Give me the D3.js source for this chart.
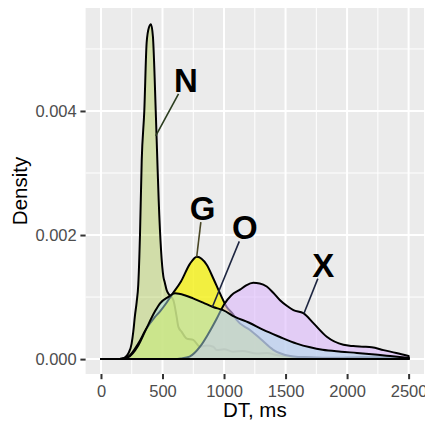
<!DOCTYPE html>
<html>
<head>
<meta charset="utf-8">
<script src="https://cdn.jsdelivr.net/npm/d3@7"></script>
<style>
  body { margin: 0; background: #fff; }
  svg { display: block; font-family: "Liberation Sans", Arial, sans-serif; }
</style>
</head>
<body>
<div id="chart"></div>
<script>
// density curves (DT in ms, density)
const dtN = [0, 150, 190, 222, 249, 263, 276, 290, 303, 317, 331, 352, 371, 390, 406, 422, 445, 458, 469, 488,
             507, 518, 534, 558, 588, 615, 629, 656, 697, 750, 805, 860, 913, 940, 1000, 1073, 1150, 1266, 1350, 1428,
             1537, 1700, 1900, 2100, 2300, 2500];
const densN = [0, 0, 0.00002, 0.00009, 0.00025, 0.00045, 0.0007, 0.00092, 0.0012, 0.002, 0.0032, 0.004, 0.0051, 0.00535, 0.0054, 0.0052, 0.004, 0.0032, 0.00256, 0.00176,
               0.00133, 0.00124, 0.00111, 0.00103, 0.00095, 0.00068, 0.00052, 0.00044, 0.00033, 0.00031, 0.0002, 0.00022, 0.0002, 0.000145, 0.00016, 0.00012, 0.00013, 0.00009, 0.0001, 0.000065,
               0.00004, 0.00003, 0.00002, 0.00003, 0.00003, 0.00002];

const dtG = [0, 150, 222, 303, 366, 439, 480, 530, 577, 650, 724, 780, 859, 913, 967, 1022, 1075, 1103, 1211, 1300,
             1400, 1537, 1700, 1900, 2100, 2300, 2500];
const densG = [0, 0, 0.00004, 0.00025, 0.00048, 0.00068, 0.00077, 0.0009, 0.00104, 0.00125, 0.00154, 0.00165, 0.00152, 0.0013, 0.00106, 0.00084, 0.00072, 0.00063, 0.00047, 0.00032,
               0.00015, 0.00005, 0.00002, 0.00001, 0.000005, 0, 0];

const dtO = [0, 150, 220, 303, 366, 439, 480, 545, 602, 680, 748, 830, 911, 992, 1089, 1200, 1320, 1450, 1591, 1700,
             1800, 1950, 2080, 2250, 2350, 2500];
const densO = [0, 0, 0.00003, 0.00022, 0.00048, 0.00077, 0.0009, 0.001, 0.00106, 0.00103, 0.00098, 0.00091, 0.00084, 0.00079, 0.00068, 0.00059, 0.00047, 0.00036, 0.00025, 0.00019,
               0.00015, 0.00012, 0.0001, 0.00007, 0.00005, 0.00002];

const dtX = [0, 600, 650, 720, 805, 870, 940, 1000, 1060, 1130, 1180, 1238, 1290, 1347, 1400, 1455, 1510, 1564, 1645, 1726,
             1835, 1970, 2050, 2133, 2200, 2296, 2400, 2500];
const densX = [0, 0, 0.00001, 0.00004, 0.0002, 0.0004, 0.00065, 0.00088, 0.00103, 0.00112, 0.00119, 0.00123, 0.00122, 0.00117, 0.00107, 0.00095, 0.00086, 0.00079, 0.00074, 0.00058,
               0.00036, 0.00023, 0.00021, 0.0002, 0.00019, 0.000145, 0.0001, 0.00005];

// labels: text position and the point on the curve the segment points at
const labelText = ['N', 'G', 'O', 'X'];
const labelDT = [691, 825, 1170, 1807];
const labelDensity = [0.0045, 0.00243, 0.00212, 0.00152];
const pointDT = [445, 778, 905, 1650];
const pointDensity = [0.0036, 0.00165, 0.00084, 0.00074];

const xTicks = [0, 500, 1000, 1500, 2000, 2500];
const xMinor = [250, 750, 1250, 1750, 2250];
const yTicks = [0, 0.002, 0.004];
const yMinor = [0.001, 0.003, 0.005];

const width = 425, height = 424;
const panel = {left: 85.6, right: 424, top: 8, bottom: 374};

// drawing order matters: later fills tint the outlines of earlier ones
const series = [
  {name: 'N', dt: dtN, dens: densN, fill: 'rgb(148,188,18)', opacity: 0.3},
  {name: 'G', dt: dtG, dens: densG, fill: 'rgb(245,240,10)', opacity: 0.76},
  {name: 'X', dt: dtX, dens: densX, fill: 'rgb(220,183,252)', opacity: 0.6},
  {name: 'O', dt: dtO, dens: densO, fill: 'rgb(170,222,232)', opacity: 0.5}
];
const segColors = {N: '#2b3d1f', G: '#4a4725', O: '#1d2540', X: '#1d2540'};

const svg = d3.select('#chart').append('svg')
    .attr('width', width)
    .attr('height', height);

const x = d3.scaleLinear().domain([-125, 2625]).range([panel.left, panel.right]);
const y = d3.scaleLinear().domain([-0.00024, 0.00566]).range([panel.bottom, panel.top]);

// panel background + grid
svg.append('rect')
    .attr('x', panel.left).attr('y', panel.top)
    .attr('width', panel.right - panel.left).attr('height', panel.bottom - panel.top)
    .attr('fill', '#ebebeb');

const grid = svg.append('g').attr('stroke', '#fff');
grid.selectAll('.xminor').data(xMinor).enter().append('line')
    .attr('x1', d => x(d)).attr('x2', d => x(d))
    .attr('y1', panel.top).attr('y2', panel.bottom)
    .attr('stroke-width', 1);
grid.selectAll('.yminor').data(yMinor).enter().append('line')
    .attr('y1', d => y(d)).attr('y2', d => y(d))
    .attr('x1', panel.left).attr('x2', panel.right)
    .attr('stroke-width', 1);
grid.selectAll('.xmajor').data(xTicks).enter().append('line')
    .attr('x1', d => x(d)).attr('x2', d => x(d))
    .attr('y1', panel.top).attr('y2', panel.bottom)
    .attr('stroke-width', 2);
grid.selectAll('.ymajor').data(yTicks).enter().append('line')
    .attr('y1', d => y(d)).attr('y2', d => y(d))
    .attr('x1', panel.left).attr('x2', panel.right)
    .attr('stroke-width', 2);

svg.append('clipPath').attr('id', 'panelclip')
  .append('rect')
    .attr('x', panel.left).attr('y', panel.top)
    .attr('width', panel.right - panel.left).attr('height', panel.bottom - panel.top);

const area = d3.area()
    .x(d => x(d[0]))
    .y0(y(0))
    .y1(d => y(d[1]))
    .curve(d3.curveMonotoneX);

const plot = svg.append('g').attr('clip-path', 'url(#panelclip)');
series.forEach(s => {
  const pts = s.dt.map((v, i) => [v, s.dens[i]]);
  plot.append('path')
      .attr('d', area(pts))
      .attr('fill', s.fill)
      .attr('fill-opacity', s.opacity)
      .attr('stroke', '#000')
      .attr('stroke-width', 2)
      .attr('stroke-linejoin', 'round');
});

// label segments + labels
const labelSize = 33;
const labels = svg.append('g');
labelText.forEach((t, i) => {
  const cx = x(labelDT[i]), cy = y(labelDensity[i]);
  const px = x(pointDT[i]), py = y(pointDensity[i]);
  const halfW = (t === 'X' ? 0.667 : t === 'N' ? 0.722 : 0.778) * labelSize / 2 + 2;
  const halfH = 0.716 * labelSize / 2 + 2;
  const dx = px - cx, dy = py - cy;
  const k = Math.min(Math.abs(halfW / dx), Math.abs(halfH / dy));
  labels.append('line')
      .attr('x1', cx + k * dx).attr('y1', cy + k * dy)
      .attr('x2', px).attr('y2', py)
      .attr('stroke', segColors[t])
      .attr('stroke-width', 1.6);
  labels.append('text')
      .attr('x', cx)
      .attr('y', cy + 0.358 * labelSize)
      .attr('text-anchor', 'middle')
      .attr('font-weight', 'bold')
      .attr('font-size', labelSize)
      .attr('fill', '#000')
      .text(t);
});

// axes
const xAxis = svg.append('g')
    .attr('transform', `translate(0,${panel.bottom})`)
    .call(d3.axisBottom(x).tickValues(xTicks).tickSize(5.2).tickPadding(6.1).tickFormat(d3.format('d')));
const yAxis = svg.append('g')
    .attr('transform', `translate(${panel.left},0)`)
    .call(d3.axisLeft(y).tickValues(yTicks).tickSize(5.2).tickPadding(3.7).tickFormat(d3.format('.3f')));

[xAxis, yAxis].forEach(ax => {
  ax.select('.domain').remove();
  ax.selectAll('.tick line').attr('stroke', '#333').attr('stroke-width', 2);
  ax.selectAll('.tick text')
      .attr('fill', '#4d4d4d')
      .attr('font-size', 16.5)
      .attr('font-family', '"Liberation Sans", Arial, sans-serif');
});

svg.append('text')
    .attr('x', (panel.left + panel.right) / 2)
    .attr('y', 416.5)
    .attr('text-anchor', 'middle')
    .attr('font-size', 20.5)
    .attr('fill', '#000')
    .text('DT, ms');

svg.append('text')
    .attr('transform', `translate(26.5,${(panel.top + panel.bottom) / 2}) rotate(-90)`)
    .attr('text-anchor', 'middle')
    .attr('font-size', 20.5)
    .attr('fill', '#000')
    .text('Density');
</script>
</body>
</html>
